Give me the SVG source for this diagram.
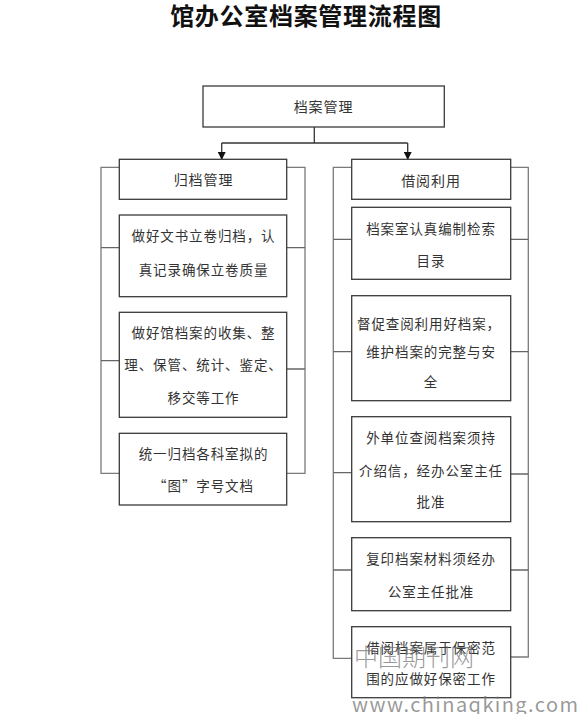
<svg xmlns="http://www.w3.org/2000/svg" width="582" height="714" viewBox="0 0 582 714">
<defs>
<marker id="arr" markerWidth="8" markerHeight="8" refX="7" refY="4" orient="auto" markerUnits="userSpaceOnUse">
<path d="M0,0 L8,4 L0,8 Z" fill="#111"/>
</marker>
<style>
.box{fill:#fff;stroke:#3a3a3a;stroke-width:1.3}
.t{font-family:"Noto Sans CJK SC","Noto Sans",sans-serif;font-size:13.5px;fill:#333;text-anchor:middle;letter-spacing:0.9px}
.h{font-size:14px}
.br{fill:none;stroke:#7a7a7a;stroke-width:1.3}
.tk{fill:none;stroke:#666;stroke-width:1.3}
.title{font-family:"Noto Sans CJK SC",sans-serif;font-weight:bold;font-size:24px;fill:#111;text-anchor:middle;letter-spacing:0.7px}
.wm{font-family:"Noto Sans CJK SC","DejaVu Sans",sans-serif;fill:#777;fill-opacity:0.75}
</style>
</defs>
<rect width="582" height="714" fill="#fff"/>
<text class="title" x="306" y="25">馆办公室档案管理流程图</text>

<g id="connectors">
<path d="M314.3,127 V143" fill="none" stroke="#333" stroke-width="1.3"/>
<path d="M221.7,143 H407.7" fill="none" stroke="#333" stroke-width="1.3"/>
<path d="M221.7,143 V159" fill="none" stroke="#333" stroke-width="1.3" marker-end="url(#arr)"/>
<path d="M407.7,143 V159" fill="none" stroke="#333" stroke-width="1.3" marker-end="url(#arr)"/>
<path class="br" d="M119,167.3 H101 V473.3 H119"/>
<path class="tk" d="M101,247.7 H119 M101,360.7 H119"/>
<path class="br" d="M287,167.3 H305 V473.3 H287"/>
<path class="tk" d="M287,247.7 H305 M287,369 H305"/>
<path class="br" d="M351.7,167.3 H333.3 V658.3 H351.7"/>
<path class="tk" d="M333.3,239.3 H351.7 M333.3,351.7 H351.7 M333.3,472.7 H351.7 M333.3,570 H351.7"/>
<path class="br" d="M510.7,167.3 H528.3 V657 H510.7"/>
<path class="tk" d="M510.7,239.3 H528.3 M510.7,351.7 H528.3 M510.7,474 H528.3 M510.7,570 H528.3"/>
</g>

<g id="root">
<rect class="box" x="203" y="86" width="241.3" height="41"/>
<text class="t h" x="323.5" y="112">档案管理</text>
</g>

<g id="guidang">
<rect class="box" x="119.3" y="159.3" width="167.4" height="40"/>
<text class="t h" x="203.5" y="184.7">归档管理</text>
</g>
<g id="g1">
<rect class="box" x="119.3" y="215" width="167.4" height="81.7"/>
<text class="t" x="203.5" y="241">做好文书立卷归档，认</text>
<text class="t" x="203.5" y="275">真记录确保立卷质量</text>
</g>
<g id="g2">
<rect class="box" x="119.3" y="312.3" width="167.4" height="105"/>
<text class="t" x="203.5" y="337.7">做好馆档案的收集、整</text>
<text class="t" x="203.5" y="370">理、保管、统计、鉴定、</text>
<text class="t" x="203.5" y="403.3">移交等工作</text>
</g>
<g id="g3">
<rect class="box" x="119.3" y="433.3" width="167.4" height="71.7"/>
<text class="t" x="203.5" y="459">统一归档各科室拟的</text>
<text class="t" x="203.5" y="491">“图”字号文档</text>
</g>

<g id="jieyue">
<rect class="box" x="351.7" y="159.3" width="159" height="40"/>
<text class="t h" x="431" y="185.5">借阅利用</text>
</g>
<g id="r1">
<rect class="box" x="351.7" y="207.3" width="159" height="72"/>
<text class="t" x="431" y="234.3">档案室认真编制检索</text>
<text class="t" x="431" y="266">目录</text>
</g>
<g id="r2">
<rect class="box" x="351.7" y="295.7" width="159" height="105"/>
<text class="t" x="429" y="329">督促查阅利用好档案，</text>
<text class="t" x="431" y="356.7">维护档案的完整与安</text>
<text class="t" x="431" y="386.7">全</text>
</g>
<g id="r3">
<rect class="box" x="351.7" y="416.7" width="159" height="105"/>
<text class="t" x="431" y="443.3">外单位查阅档案须持</text>
<text class="t" x="431" y="475.7">介绍信，经办公室主任</text>
<text class="t" x="431" y="506.7">批准</text>
</g>
<g id="r4">
<rect class="box" x="351.7" y="537.7" width="159" height="73"/>
<text class="t" x="431" y="564.3">复印档案材料须经办</text>
<text class="t" x="431" y="596.7">公室主任批准</text>
</g>
<g id="r5">
<rect class="box" x="351.7" y="626.7" width="159" height="71"/>
<text class="t" x="431" y="653.3">借阅档案属于保密范</text>
<text class="t" x="431" y="684.3">围的应做好保密工作</text>
</g>

<g id="watermark">
<text class="wm" x="354" y="666" font-size="24" font-weight="300">中国期刊网</text>
<text class="wm" x="352" y="712" font-size="20" textLength="226" lengthAdjust="spacing" font-family="DejaVu Sans, sans-serif">www.chinaqking.com</text>
</g>
</svg>
